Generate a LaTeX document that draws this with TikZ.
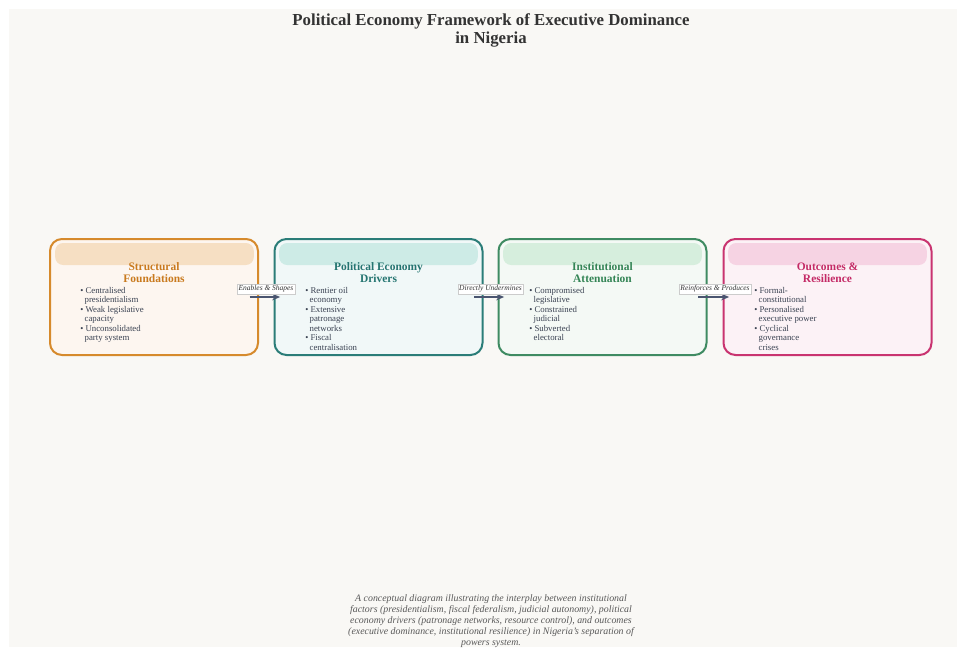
\documentclass[tikz,border=0pt]{standalone}
\usepackage{fontspec}
\setmainfont{Liberation Serif}
\usetikzlibrary{positioning,arrows.meta}

\definecolor{panelbg}{HTML}{F9F8F5}
\definecolor{inktext}{HTML}{3A4252}
\definecolor{arrowink}{HTML}{4A5570}
\definecolor{orgline}{HTML}{D68A2C}
\definecolor{orgfill}{HTML}{FDF6F0}
\definecolor{orghead}{HTML}{F6DFC3}
\definecolor{orgtext}{HTML}{C97A1E}
\definecolor{tealline}{HTML}{2B7D78}
\definecolor{tealfill}{HTML}{F1F8F8}
\definecolor{tealhead}{HTML}{CDEBE6}
\definecolor{tealtext}{HTML}{237470}
\definecolor{grnline}{HTML}{3F8B62}
\definecolor{grnfill}{HTML}{F4F9F5}
\definecolor{grnhead}{HTML}{D6EEDD}
\definecolor{grntext}{HTML}{348556}
\definecolor{pnkline}{HTML}{C93470}
\definecolor{pnkfill}{HTML}{FCF2F6}
\definecolor{pnkhead}{HTML}{F6D3E3}
\definecolor{pnktext}{HTML}{C42A66}

\tikzset{
  stage/.style={draw=#1line, fill=#1fill, line width=1.5pt, rounded corners=9pt,
    minimum width=156pt, minimum height=87pt, inner sep=0pt},
  band/.style={fill=#1head, rounded corners=6pt, minimum width=149pt,
    minimum height=16.5pt, inner sep=0pt},
  heading/.style={text=#1text, font=\fontsize{8.6}{9}\selectfont\bfseries, align=center},
  points/.style={text=inktext, font=\fontsize{6.6}{7.1}\selectfont, align=left,
    anchor=north west, inner sep=0pt},
  flow/.style={draw=arrowink, line width=1.1pt, -{Stealth[length=6pt,width=5pt]}},
  flowtag/.style={draw=black!20, fill=white, line width=0.3pt, inner sep=1pt,
    font=\fontsize{5.6}{6}\itshape\selectfont, text=black!80},
}
\newcommand{\bul}{\textbullet\ }
\newcommand{\ind}{\hspace*{3.3pt}}

\begin{document}
\begin{tikzpicture}[x=0.75pt,y=-0.75pt]
\useasboundingbox (0,0) rectangle (959,647);
\fill[panelbg] (9,9) rectangle (957,647);

% title
\node[font=\fontsize{12.6}{13.2}\selectfont\bfseries, text=black!80, align=center]
  (title) at (491,30.5) {Political Economy Framework of Executive Dominance\\in Nigeria};

% stages
\node[stage=org] (struct) at (154,297) {};
\node[stage=teal] (drivers) at (378.5,297) {};
\node[stage=grn] (atten) at (602.5,297) {};
\node[stage=pnk] (outcomes) at (827.5,297) {};

\node[band=org] at (154.5,254) {};
\node[band=teal] at (378.5,254) {};
\node[band=grn] at (602.5,254) {};
\node[band=pnk] at (827.5,254) {};

\node[heading=org] (structhead) at (154,273) {Structural\\Foundations};
\node[heading=teal] (drivershead) at (378.5,273) {Political Economy\\Drivers};
\node[heading=grn] (attenhead) at (602.5,273) {Institutional\\Attenuation};
\node[heading=pnk] (outcomeshead) at (827.5,273) {Outcomes \&\\Resilience};

\node[points] (structlist) at (80,287)
  {\bul Centralised\\\ind presidentialism\\\bul Weak legislative\\\ind capacity\\\bul Unconsolidated\\\ind party system};
\node[points] (driverslist) at (305,287)
  {\bul Rentier oil\\\ind economy\\\bul Extensive\\\ind patronage\\\ind networks\\\bul Fiscal\\\ind centralisation};
\node[points] (attenlist) at (529,287)
  {\bul Compromised\\\ind legislative\\\bul Constrained\\\ind judicial\\\bul Subverted\\\ind electoral};
\node[points] (outcomeslist) at (754,287)
  {\bul Formal-\\\ind constitutional\\\bul Personalised\\\ind executive power\\\bul Cyclical\\\ind governance\\\ind crises};

% connectors
\draw[flow] ([xshift=-7pt]struct.east) -- ([xshift=5pt]drivers.west);
\draw[flow] ([xshift=-7pt]drivers.east) -- ([xshift=5pt]atten.west);
\draw[flow] ([xshift=-7pt]atten.east) -- ([xshift=5pt]outcomes.west);
\node[flowtag] at (266,289) {Enables \& Shapes};
\node[flowtag] at (490.5,289) {Directly Undermines};
\node[flowtag] at (715,289) {Reinforces \& Produces};

% caption
\node[font=\fontsize{7.4}{8.2}\itshape\selectfont, text=black!65, align=center]
  (caption) at (491,621) {A conceptual diagram illustrating the interplay between institutional\\
  factors (presidentialism, fiscal federalism, judicial autonomy), political\\
  economy drivers (patronage networks, resource control), and outcomes\\
  (executive dominance, institutional resilience) in Nigeria's separation of\\
  powers system.};
\end{tikzpicture}
\end{document}
